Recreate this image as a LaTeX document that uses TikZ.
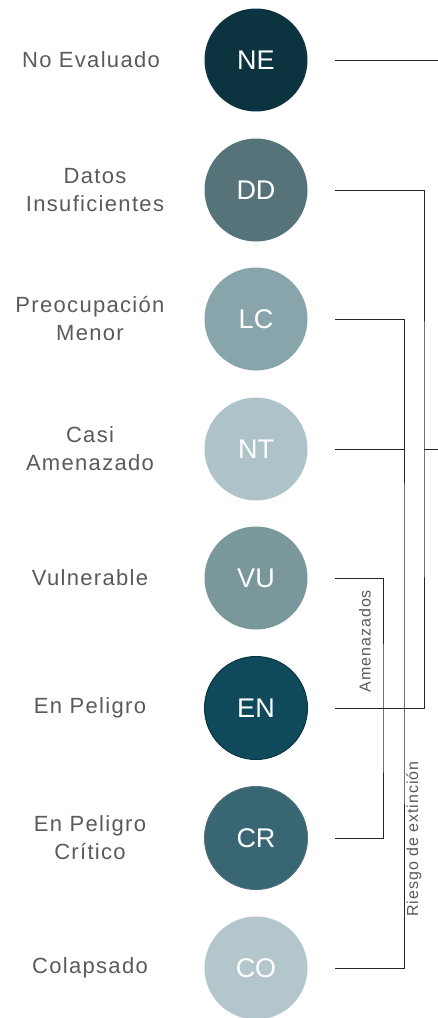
\documentclass[tikz,border=0pt]{standalone}
\usepackage{fontspec}
\setmainfont{Liberation Sans}
\newfontfamily\labfont[LetterSpace=6]{Liberation Sans}
\definecolor{cne}{HTML}{0B3340}
\definecolor{cdd}{HTML}{56737A}
\definecolor{clc}{HTML}{87A5AA}
\definecolor{cnt}{HTML}{AEC3C9}
\definecolor{cvu}{HTML}{7A979B}
\definecolor{cen}{HTML}{0E4A5C}
\definecolor{ccr}{HTML}{386673}
\definecolor{cco}{HTML}{B3C6CB}
\definecolor{labgray}{HTML}{5A5A5A}
\begin{document}
\begin{tikzpicture}[x=1pt, y=-1pt,
    cat/.style = {circle, minimum size=103pt, inner sep=0pt, text=white, font=\fontsize{27}{30}\selectfont},
    lab/.style = {align=center, text=labgray, font=\labfont\fontsize{22}{28}\selectfont},
    conn/.style = {black!85, line width=0.8pt},
    grp/.style = {rotate=90, text=labgray, font=\labfont\fontsize{16}{18}\selectfont}]
    \useasboundingbox (0, 0) rectangle (438, 1018);
    % categories
    \node [cat, fill = cne] (ne) at (256, 60) {NE};
    \node [cat, fill = cdd] (dd) at (256, 190) {DD};
    \node [cat, fill = clc] (lc) at (256, 319) {LC};
    \node [cat, fill = cnt] (nt) at (256, 449) {NT};
    \node [cat, fill = cvu] (vu) at (256, 578) {VU};
    \node [cat, fill = cen, draw = cne, line width = 1pt] (en) at (256, 708) {EN};
    \node [cat, fill = ccr, draw = cne!70, line width = 1pt] (cr) at (256, 838) {CR};
    \node [cat, fill = cco] (co) at (256, 968) {CO};
    % names
    \node [lab] (nelab) at (91, 60) {No Evaluado};
    \node [lab] (ddlab) at (95, 190) {Datos\\Insuficientes};
    \node [lab] (lclab) at (90, 319) {Preocupación\\Menor};
    \node [lab] (ntlab) at (90, 449) {Casi\\Amenazado};
    \node [lab] (vulab) at (90, 578) {Vulnerable};
    \node [lab] (enlab) at (90, 708) {En Peligro};
    \node [lab] (crlab) at (90, 838) {En Peligro\\Crítico};
    \node [lab] (colab) at (90, 968) {Colapsado};
    % brackets
    \coordinate (netip) at (438, 60);
    \coordinate (ddmid) at (424, 449);
    \coordinate (ddtip) at (438, 449);
    \coordinate (lcmid) at (404, 643);
    \coordinate (vumid) at (383, 708);
    \draw [conn] ([xshift=27pt]ne.east) -- (netip);
    \draw [conn] ([xshift=27pt]dd.east) -| (ddmid) |- ([xshift=27pt]en.east);
    \draw [conn] (ddmid) -- (ddtip);
    \draw [conn] ([xshift=27pt]lc.east) -| (lcmid) |- ([xshift=27pt]co.east);
    \draw [conn] ([xshift=27pt]nt.east) -- (nt.east -| lcmid);
    \draw [conn] ([xshift=27pt]vu.east) -| (vumid) |- ([xshift=27pt]cr.east);
    \node [grp] (amen) at (365, 641) {Amenazados};
    \node [grp] (riesgo) at (414, 839) {Riesgo de extinción};
\end{tikzpicture}
\end{document}
